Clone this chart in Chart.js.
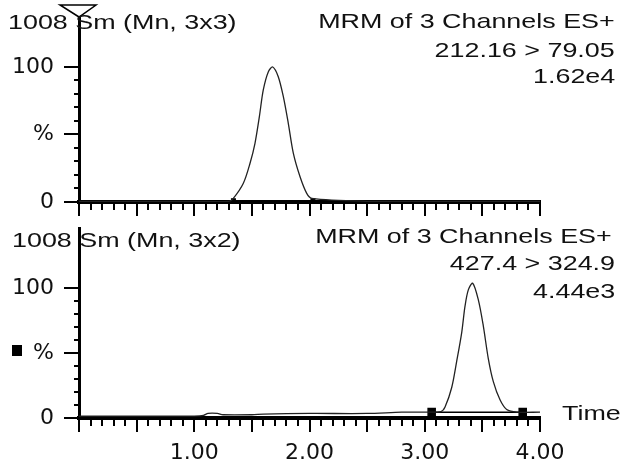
<!DOCTYPE html>
<html>
<head>
<meta charset="utf-8">
<script src="https://cdn.jsdelivr.net/npm/chart.js@4"></script>
<style>
  html, body { margin: 0; padding: 0; background: #fff; }
  #wrap { position: relative; width: 622px; height: 462px; overflow: hidden; }
  .box { position: absolute; left: 0; width: 622px; }
  .txt { position: absolute; font-family: "Liberation Sans", Arial, sans-serif; font-size: 21px;
         line-height: 21px; color: #111; white-space: nowrap; }
  .l { transform: scaleX(1.28); transform-origin: left top; }
  .r { transform: scaleX(1.28); transform-origin: right top; text-align: right; }
</style>
</head>
<body>
<div id="wrap">
  <div class="box" style="top:0;height:222px"><canvas id="topChart"></canvas></div>
  <div class="box" style="top:222px;height:240px"><canvas id="bottomChart"></canvas></div>

  <div class="txt l" style="left:8px;top:11px">1008 Sm (Mn, 3x3)</div>
  <div class="txt r" style="right:7px;top:10px">MRM of 3 Channels ES+</div>
  <div class="txt r" style="right:7px;top:39px">212.16 &gt; 79.05</div>
  <div class="txt r" style="right:7px;top:65px">1.62e4</div>

  <div class="txt l" style="left:12px;top:229px">1008 Sm (Mn, 3x2)</div>
  <div class="txt r" style="right:10px;top:225px">MRM of 3 Channels ES+</div>
  <div class="txt r" style="right:7px;top:252px">427.4 &gt; 324.9</div>
  <div class="txt r" style="right:7px;top:280px">4.44e3</div>

  <div class="txt l" style="left:562px;top:402px">Time</div>
  <div style="position:absolute;left:12px;top:345px;width:10px;height:11px;background:#000"></div>
</div>

<script>
// top trace: 212.16 > 79.05
const topTime = [0, 0.5, 1.0, 1.3, 1.339, 1.426, 1.484, 1.527, 1.565, 1.599, 1.643, 1.681, 1.729, 1.773, 1.816, 1.86, 1.918, 1.976, 2.02, 2.5, 3.0, 3.5, 4.0];
const topIntensity = [0.5, 0.5, 0.5, 0.5, 2.7, 13.9, 28.7, 43.5, 63.2, 83, 96.5, 100, 92.8, 78, 58.3, 36, 18.7, 6.4, 2.7, 0.5, 0.5, 0.5, 0.5];
const topMarkTime = [1.34, 2.03];
const topMarkLevel = [1, 1];

// bottom trace: 427.4 > 324.9
const botTime = [0, 0.5, 1.0, 1.08, 1.12, 1.2, 1.25, 1.5, 1.6, 2.0, 2.5, 2.8, 3.0, 3.14, 3.176, 3.234, 3.277, 3.321, 3.349, 3.378, 3.416, 3.465, 3.508, 3.551, 3.595, 3.653, 3.711, 3.8, 4.0];
const botIntensity = [1.5, 1.5, 1.5, 2, 3.5, 3.5, 2.5, 2.5, 3, 3.5, 3.5, 4.5, 4.5, 5, 8.5, 23.5, 43.6, 66, 86, 98.7, 103.8, 91, 71, 46, 28, 14, 6.5, 4.5, 4.5];
const botMarkTime = [3.06, 3.85];
const botMarkLevel = [4.5, 4.5];

// axes
const xMin = 0, xMax = 4, xStep = 0.1;
const xLabelValues = [1, 2, 3, 4];
const yTickValues = [0, 10, 20, 30, 40, 50, 60, 70, 80, 90, 100];
const yLabelValues = [0, 50, 100];
const yLabelText = ['0', '%', '100'];

Chart.defaults.font.family = "'DejaVu Sans', sans-serif";
Chart.defaults.font.size = 22;
Chart.defaults.color = '#111';

const toPoints = (xs, ys) => xs.map((x, i) => ({ x: x, y: ys[i] }));

// draws the short tick marks off both axes
const tickMarks = {
  id: 'tickMarks',
  afterDraw(chart, args, opts) {
    const ctx = chart.ctx;
    const xs = chart.scales.x, ys = chart.scales.y;
    ctx.save();
    ctx.strokeStyle = '#000';
    ctx.lineWidth = 2;
    ctx.beginPath();
    xs.ticks.forEach(t => {
      const px = Math.round(xs.getPixelForValue(t.value));
      const major = Math.abs(t.value * 2 - Math.round(t.value * 2)) < 1e-6;
      ctx.moveTo(px, xs.top + 1);
      ctx.lineTo(px, xs.top + 1 + (major ? opts.major : opts.minor));
    });
    ys.ticks.forEach(t => {
      const py = Math.round(ys.getPixelForValue(t.value));
      const len = t.value % 50 === 0 ? 15 : 5;
      ctx.moveTo(ys.right, py);
      ctx.lineTo(ys.right - len, py);
    });
    ctx.stroke();
    if (opts.triangle) {
      const ax = ys.right, ay = chart.chartArea.top;
      ctx.lineWidth = 1.5;
      ctx.beginPath();
      ctx.moveTo(ax, ay);
      ctx.lineTo(ax - 19, ay - 12);
      ctx.lineTo(ax + 17, ay - 12);
      ctx.closePath();
      ctx.stroke();
    }
    ctx.restore();
  }
};

function makeChart(id, traceT, traceV, markT, markV, opts) {
  const ctx = document.getElementById(id).getContext('2d');
  return new Chart(ctx, {
    type: 'scatter',
    data: {
      datasets: [{
        data: toPoints(traceT, traceV),
        showLine: true,
        borderColor: '#222',
        borderWidth: 1.3,
        tension: 0.3,
        pointRadius: 0
      }, {
        data: toPoints(markT, markV),
        showLine: opts.markLine,
        borderColor: '#000',
        borderWidth: 1.5,
        pointStyle: 'rect',
        pointRadius: opts.markSize,
        backgroundColor: '#000',
        borderJoinStyle: 'miter'
      }]
    },
    options: {
      responsive: true,
      maintainAspectRatio: false,
      animation: false,
      layout: { padding: { top: opts.padTop, right: 82, left: 0, bottom: 0 } },
      plugins: {
        legend: { display: false },
        tooltip: { enabled: false },
        tickMarks: { major: opts.major, minor: 7, triangle: opts.triangle }
      },
      scales: {
        x: {
          type: 'linear',
          min: xMin,
          max: xMax,
          grid: { display: false },
          border: { color: '#000', width: 4 },
          afterBuildTicks: s => {
            const ticks = [];
            for (let i = 0; i <= Math.round((xMax - xMin) / xStep); i++) {
              ticks.push({ value: +(xMin + i * xStep).toFixed(1) });
            }
            s.ticks = ticks;
          },
          ticks: {
            autoSkip: false,
            maxRotation: 0,
            padding: 14,
            callback: v => (opts.xLabels && xLabelValues.includes(v)) ? v.toFixed(2) : ''
          },
          afterFit: s => { s.height = opts.xHeight; s.paddingLeft = 0; s.paddingRight = 0; }
        },
        y: {
          min: 0,
          max: opts.yMax,
          grid: { display: false },
          border: { color: '#000', width: 3 },
          afterBuildTicks: s => { s.ticks = yTickValues.map(v => ({ value: v })); },
          ticks: {
            autoSkip: false,
            padding: 17,
            callback: v => {
              const i = yLabelValues.indexOf(v);
              return i >= 0 ? yLabelText[i] : '';
            }
          },
          afterFit: s => { s.width = 79; s.paddingTop = 0; s.paddingBottom = 0; }
        }
      }
    },
    plugins: [tickMarks]
  });
}

makeChart('topChart', topTime, topIntensity, topMarkTime, topMarkLevel,
  { padTop: 17, yMax: 137, xHeight: 20, xLabels: false, major: 13, triangle: true, markSize: 2.5, markLine: false });
makeChart('bottomChart', botTime, botIntensity, botMarkTime, botMarkLevel,
  { padTop: 2, yMax: 146, xHeight: 44, xLabels: true, major: 13, triangle: false, markSize: 5, markLine: true });
</script>
</body>
</html>
